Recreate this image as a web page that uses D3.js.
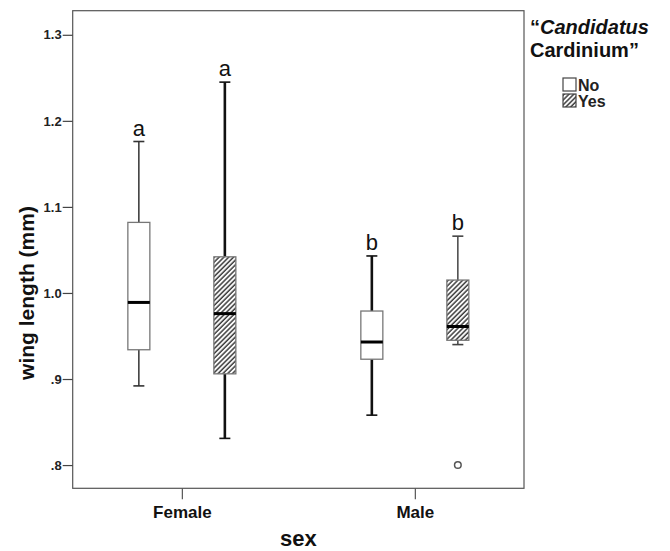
<!DOCTYPE html>
<html>
<head>
<meta charset="utf-8">
<script src="https://cdn.jsdelivr.net/npm/d3@7"></script>
<style>
body { margin: 0; background: #fff; }
svg text { font-family: Arial, "Liberation Sans", sans-serif; }
</style>
</head>
<body>
<div id="chart"></div>
<script>
// Data
var sexes = ["Female", "Male"];
var groups = ["No", "Yes"];
// box order: Female-No, Female-Yes, Male-No, Male-Yes
var boxSex = ["Female", "Female", "Male", "Male"];
var boxGroup = ["No", "Yes", "No", "Yes"];
var whiskerLow = [0.892, 0.831, 0.858, 0.940];
var q1 = [0.934, 0.906, 0.923, 0.945];
var median = [0.989, 0.976, 0.943, 0.961];
var q3 = [1.082, 1.042, 0.979, 1.015];
var whiskerHigh = [1.176, 1.245, 1.043, 1.066];
var letters = ["a", "a", "b", "b"];
var outlierSex = ["Male"];
var outlierGroup = ["Yes"];
var outlierValue = [0.800];
var yTicks = [0.8, 0.9, 1.0, 1.1, 1.2, 1.3];
var yTickLabels = [".8", ".9", "1.0", "1.1", "1.2", "1.3"];

var width = 670, height = 551;
var plot = {left: 72.7, right: 524, top: 10.7, bottom: 488.3};

// line weights per box (the scan shows them differently)
var whiskerWidth = [1.5, 2.6, 2.6, 1.5];
var whiskerColor = ["#333", "#111", "#111", "#444"];

var svg = d3.select("#chart").append("svg")
    .attr("width", width)
    .attr("height", height);

// hatch pattern
var defs = svg.append("defs");
var pat = defs.append("pattern")
    .attr("id", "hatch")
    .attr("patternUnits", "userSpaceOnUse")
    .attr("width", 3.4)
    .attr("height", 3.4)
    .attr("patternTransform", "rotate(45)");
pat.append("rect").attr("width", 3.4).attr("height", 3.4).attr("fill", "#fff");
pat.append("line")
    .attr("x1", 1).attr("y1", 0).attr("x2", 1).attr("y2", 3.4)
    .attr("stroke", "#3a3a3a").attr("stroke-width", 1.5);

// Scales
var xScale = d3.scalePoint()
    .domain(sexes)
    .range([plot.left, plot.right])
    .padding(0.4685);

var subScale = d3.scalePoint()
    .domain(groups)
    .range([-43, 43]);

var yScale = d3.scaleLinear()
    .domain([0.773, 1.328])
    .range([plot.bottom, plot.top]);

var boxW = 22, capW = 11;

// frame
svg.append("rect")
    .attr("x", plot.left).attr("y", plot.top)
    .attr("width", plot.right - plot.left)
    .attr("height", plot.bottom - plot.top)
    .attr("fill", "none")
    .attr("stroke", "#555")
    .attr("stroke-width", 1.2);

// y-axis
var yAxis = svg.append("g")
    .attr("transform", "translate(" + plot.left + ",0)")
    .call(d3.axisLeft(yScale)
        .tickValues(yTicks)
        .tickFormat(function (d, i) { return yTickLabels[i]; })
        .tickSize(10)
        .tickPadding(1));
yAxis.select(".domain").remove();
yAxis.selectAll("line").attr("stroke", "#444").attr("stroke-width", 1.2);
yAxis.selectAll("text")
    .attr("fill", "#222")
    .style("font-size", "13px")
    .style("font-weight", "bold");

// x-axis
var xAxis = svg.append("g")
    .attr("transform", "translate(0," + plot.bottom + ")")
    .call(d3.axisBottom(xScale).tickSize(11).tickPadding(7));
xAxis.select(".domain").remove();
xAxis.selectAll("line").attr("stroke", "#555").attr("stroke-width", 1.2);
xAxis.selectAll("text")
    .attr("fill", "#111")
    .style("font-size", "17px")
    .style("font-weight", "bold");

// axis titles
svg.append("text")
    .attr("x", (plot.left + plot.right) / 2)
    .attr("y", 546)
    .attr("text-anchor", "middle")
    .style("font-size", "22px")
    .style("font-weight", "bold")
    .attr("fill", "#111")
    .text("sex");

svg.append("text")
    .attr("transform", "translate(34,293) rotate(-90)")
    .attr("text-anchor", "middle")
    .style("font-size", "21px")
    .style("font-weight", "bold")
    .attr("fill", "#111")
    .text("wing length (mm)");

// boxes
var idx = d3.range(boxSex.length);
var boxes = svg.append("g").selectAll("g")
    .data(idx)
    .enter().append("g")
    .attr("transform", function (i) {
        return "translate(" + (xScale(boxSex[i]) + subScale(boxGroup[i])) + ",0)";
    });

// whiskers
boxes.append("line")
    .attr("x1", 0).attr("x2", 0)
    .attr("y1", function (i) { return yScale(whiskerHigh[i]); })
    .attr("y2", function (i) { return yScale(q3[i]); })
    .attr("stroke", function (i) { return whiskerColor[i]; })
    .attr("stroke-width", function (i) { return whiskerWidth[i]; });
boxes.append("line")
    .attr("x1", 0).attr("x2", 0)
    .attr("y1", function (i) { return yScale(q1[i]); })
    .attr("y2", function (i) { return yScale(whiskerLow[i]); })
    .attr("stroke", function (i) { return whiskerColor[i]; })
    .attr("stroke-width", function (i) { return whiskerWidth[i]; });
// caps
[whiskerHigh, whiskerLow].forEach(function (arr) {
    boxes.append("line")
        .attr("x1", -capW / 2).attr("x2", capW / 2)
        .attr("y1", function (i) { return yScale(arr[i]); })
        .attr("y2", function (i) { return yScale(arr[i]); })
        .attr("stroke", function (i) { return whiskerColor[i]; })
        .attr("stroke-width", 1.6);
});

boxes.append("rect")
    .attr("x", -boxW / 2)
    .attr("width", boxW)
    .attr("y", function (i) { return yScale(q3[i]); })
    .attr("height", function (i) { return yScale(q1[i]) - yScale(q3[i]); })
    .attr("fill", function (i) { return boxGroup[i] === "Yes" ? "url(#hatch)" : "#fff"; })
    .attr("stroke", "#777")
    .attr("stroke-width", 1.3);

boxes.append("line")
    .attr("x1", -boxW / 2).attr("x2", boxW / 2)
    .attr("y1", function (i) { return yScale(median[i]); })
    .attr("y2", function (i) { return yScale(median[i]); })
    .attr("stroke", "#000")
    .attr("stroke-width", 3);

// significance letters
boxes.append("text")
    .attr("x", 0)
    .attr("y", function (i) { return yScale(whiskerHigh[i]) - 6; })
    .attr("text-anchor", "middle")
    .style("font-size", "22px")
    .attr("fill", "#111")
    .text(function (i) { return letters[i]; });

// outliers
svg.append("g").selectAll("circle")
    .data(outlierValue)
    .enter().append("circle")
    .attr("cx", function (d, i) { return xScale(outlierSex[i]) + subScale(outlierGroup[i]); })
    .attr("cy", function (d) { return yScale(d); })
    .attr("r", 3.3)
    .attr("fill", "#fff")
    .attr("stroke", "#555")
    .attr("stroke-width", 1.5);

// legend
var legend = svg.append("g");
var title1 = legend.append("text")
    .attr("x", 530).attr("y", 34)
    .style("font-size", "20px")
    .style("font-weight", "bold")
    .attr("fill", "#111");
title1.append("tspan").text("\u201C");
title1.append("tspan").style("font-style", "italic").text("Candidatus");
legend.append("text")
    .attr("x", 530).attr("y", 57)
    .style("font-size", "20px")
    .style("font-weight", "bold")
    .attr("fill", "#111")
    .text("Cardinium\u201D");

var items = legend.selectAll(".item")
    .data(groups)
    .enter().append("g")
    .attr("class", "item")
    .attr("transform", function (d, i) { return "translate(563," + (78 + i * 16) + ")"; });
items.append("rect")
    .attr("width", 13).attr("height", 13)
    .attr("fill", function (d) { return d === "Yes" ? "url(#hatch)" : "#fff"; })
    .attr("stroke", "#444")
    .attr("stroke-width", 1.2);
items.append("text")
    .attr("x", 15).attr("y", 12.5)
    .style("font-size", "16px")
    .style("font-weight", "bold")
    .attr("fill", "#222")
    .text(function (d) { return d; });
</script>
</body>
</html>
